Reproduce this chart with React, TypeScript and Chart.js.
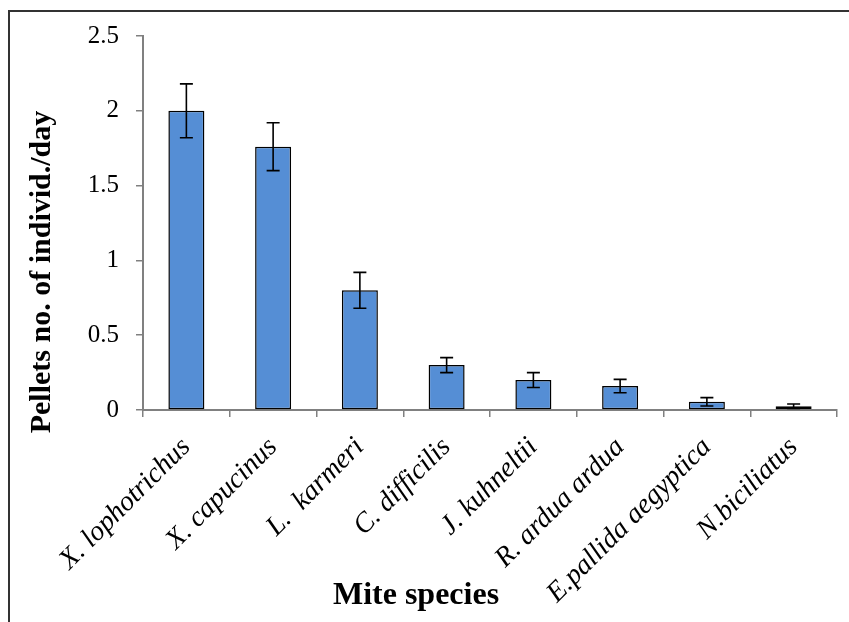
import React, { useEffect, useRef } from "react";
import { Chart, registerables } from "chart.js";

Chart.register(...registerables);

const categories = [
  "X. lophotrichus",
  "X. capucinus",
  "L.  karmeri",
  "C. difficilis",
  "J. kuhneltii",
  "R. ardua ardua",
  "E.pallida aegyptica",
  "N.biciliatus",
];
const pelletValues = [2.0, 1.76, 0.8, 0.3, 0.2, 0.16, 0.055, 0.025];
const pelletErrors = [0.18, 0.16, 0.12, 0.05, 0.05, 0.045, 0.028, 0.015];
const yTickValues = [0, 0.5, 1, 1.5, 2, 2.5];
const yTickLabels = ["0", "0.5", "1", "1.5", "2", "2.5"];
const xTitle = "Mite species";
const yTitle = "Pellets no. of individ./day";

const SERIF = "'Liberation Serif', 'Times New Roman', serif";

const framePlugin = {
  id: "frame",
  beforeDraw(chart: any) {
    const { ctx, width, height } = chart;
    ctx.save();
    ctx.fillStyle = "#ffffff";
    ctx.fillRect(0, 0, width, height);
    ctx.strokeStyle = "#333333";
    ctx.lineWidth = 2;
    ctx.beginPath();
    ctx.moveTo(8, 11);
    ctx.lineTo(width, 11);
    ctx.moveTo(9, 10);
    ctx.lineTo(9, height);
    ctx.stroke();
    ctx.restore();
  },
};

const errorBarPlugin = {
  id: "errorBars",
  afterDatasetsDraw(chart: any) {
    const { ctx } = chart;
    const yScale = chart.scales.y;
    const meta = chart.getDatasetMeta(0);
    ctx.save();
    ctx.strokeStyle = "#000000";
    ctx.lineWidth = 1.6;
    meta.data.forEach((el: any, i: number) => {
      const v = pelletValues[i];
      const e = pelletErrors[i];
      const x = el.x;
      const yTop = yScale.getPixelForValue(v + e);
      const yBot = yScale.getPixelForValue(Math.max(0, v - e));
      const cap = 6.5;
      ctx.beginPath();
      ctx.moveTo(x, yTop);
      ctx.lineTo(x, yBot);
      ctx.moveTo(x - cap, yTop);
      ctx.lineTo(x + cap, yTop);
      ctx.moveTo(x - cap, yBot);
      ctx.lineTo(x + cap, yBot);
      ctx.stroke();
    });
    ctx.restore();
  },
};

const axisTitlePlugin = {
  id: "axisTitles",
  afterDraw(chart: any) {
    const { ctx } = chart;
    ctx.save();
    ctx.fillStyle = "#000000";
    ctx.textAlign = "center";
    ctx.textBaseline = "middle";
    ctx.font = `bold 32px ${SERIF}`;
    ctx.fillText(xTitle, 416, 596);
    ctx.translate(42, 272);
    ctx.rotate(-Math.PI / 2);
    ctx.font = `bold 30px ${SERIF}`;
    ctx.fillText(yTitle, 0, 0);
    ctx.restore();
  },
};

export default function App() {
  const ref = useRef<HTMLCanvasElement>(null);
  useEffect(() => {
    const chart = new Chart(ref.current as HTMLCanvasElement, {
      type: "bar",
      data: {
        labels: categories,
        datasets: [
          {
            data: pelletValues,
            backgroundColor: "#558ED5",
            borderColor: "#000000",
            borderWidth: 1.5,
            borderSkipped: false,
            barPercentage: 0.415,
            categoryPercentage: 1,
          },
        ],
      },
      options: {
        responsive: false,
        animation: false,
        layout: { padding: { top: 36, right: 12, left: 0, bottom: 0 } },
        plugins: {
          legend: { display: false },
          tooltip: { enabled: false },
          title: { display: false },
        },
        scales: {
          x: {
            offset: true,
            grid: {
              offset: true,
              drawOnChartArea: false,
              drawTicks: true,
              tickLength: 7,
              color: "#808080",
              lineWidth: 1.5,
            },
            border: { display: true, color: "#808080", width: 2 },
            ticks: {
              minRotation: 45,
              maxRotation: 45,
              padding: 14,
              color: "#000000",
              font: { family: SERIF, size: 28, style: "italic" },
              autoSkip: false,
            },
            afterFit(scale: any) {
              scale.height = 212;
            },
          },
          y: {
            min: 0,
            max: 2.5,
            grid: {
              drawOnChartArea: false,
              drawTicks: true,
              tickLength: 7,
              color: "#808080",
              lineWidth: 1.5,
            },
            border: { display: true, color: "#808080", width: 2 },
            ticks: {
              stepSize: 0.5,
              padding: 17,
              color: "#000000",
              font: { family: SERIF, size: 25 },
              callback: (v: any) => {
                const idx = yTickValues.indexOf(Number(v));
                return idx >= 0 ? yTickLabels[idx] : "";
              },
            },
            afterFit(scale: any) {
              scale.width = 143;
            },
          },
        },
      },
      plugins: [framePlugin, errorBarPlugin, axisTitlePlugin],
    } as any);
    return () => chart.destroy();
  }, []);
  return (
    <div
      style={{
        position: "fixed",
        left: 0,
        top: 0,
        width: 849,
        height: 622,
        background: "#ffffff",
      }}
    >
      <canvas
        ref={ref}
        width={849}
        height={622}
        style={{ display: "block", width: 849, height: 622 }}
      />
    </div>
  );
}
